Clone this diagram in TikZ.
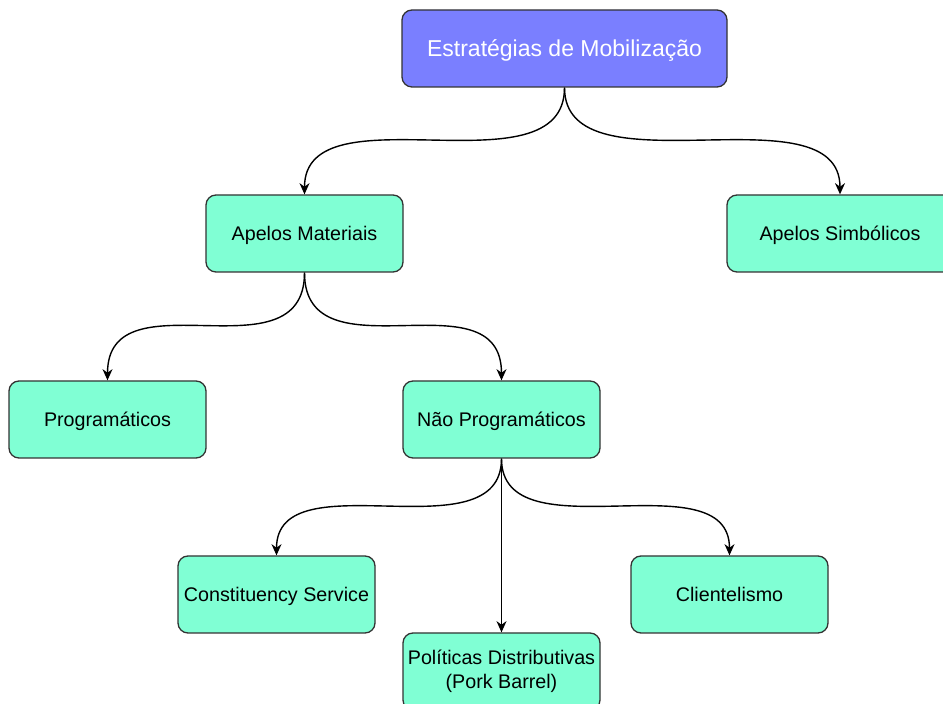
\documentclass[tikz,border=0pt]{standalone}
\usepackage{fontspec}
\setmainfont{Liberation Sans}
\usetikzlibrary{arrows.meta}
\definecolor{aqua}{HTML}{80FFD4}
\definecolor{lilac}{HTML}{7A7FFF}
\tikzset{edge/.style = {-{Stealth[length=5.6pt,width=5pt,inset=1.8pt]}, line width=0.7pt}}

\begin{document}
\begin{tikzpicture}[x=0.5pt, y=-0.5pt, main node/.style={rectangle, rounded corners=5pt, draw=black!80, line width=0.65pt, fill=aqua, minimum width=98.5pt, minimum height=38.5pt, inner sep=1pt, text height=7.1pt, text depth=0pt, align=center, font=\fontsize{9.85}{12}\selectfont}]
            \useasboundingbox (0,0) rectangle (943,704);
            \node[main node, fill=lilac, text=white, minimum width=162.5pt, text height=8.3pt, font=\fontsize{11.5}{14}\selectfont] (estrat) at (564.5,48.5) {Estratégias de Mobilização};
            \node[main node] (mat) at (304.5,233.5) {Apelos Materiais};
            \node[main node, minimum width=113pt] (simb) at (840,233.5) {Apelos Simbólicos};
            \node[main node] (prog) at (107.5,419.5) {Programáticos};
            \node[main node] (naoprog) at (501.5,419.5) {Não Programáticos};
            \node[main node] (const) at (276.5,594.5) {Constituency Service};
            \node[main node, text height=, text depth=] (pork) at (501.5,671.5) {Políticas Distributivas\\(Pork Barrel)};
            \node[main node] (client) at (729.5,594.5) {Clientelismo};
            \draw[edge] (estrat.south) .. controls +(0,108) and +(0,-108) .. (mat.north);
            \draw[edge] (estrat.south) .. controls +(0,108) and +(0,-108) .. (simb.north);
            \draw[edge] (mat.south) .. controls +(0,108) and +(0,-108) .. (prog.north);
            \draw[edge] (mat.south) .. controls +(0,108) and +(0,-108) .. (naoprog.north);
            \draw[edge] (naoprog.south) .. controls +(0,98) and +(0,-98) .. (const.north);
            \draw[edge] (naoprog.south) -- (pork.north);
            \draw[edge] (naoprog.south) .. controls +(0,98) and +(0,-98) .. (client.north);
        \end{tikzpicture}
\end{document}
